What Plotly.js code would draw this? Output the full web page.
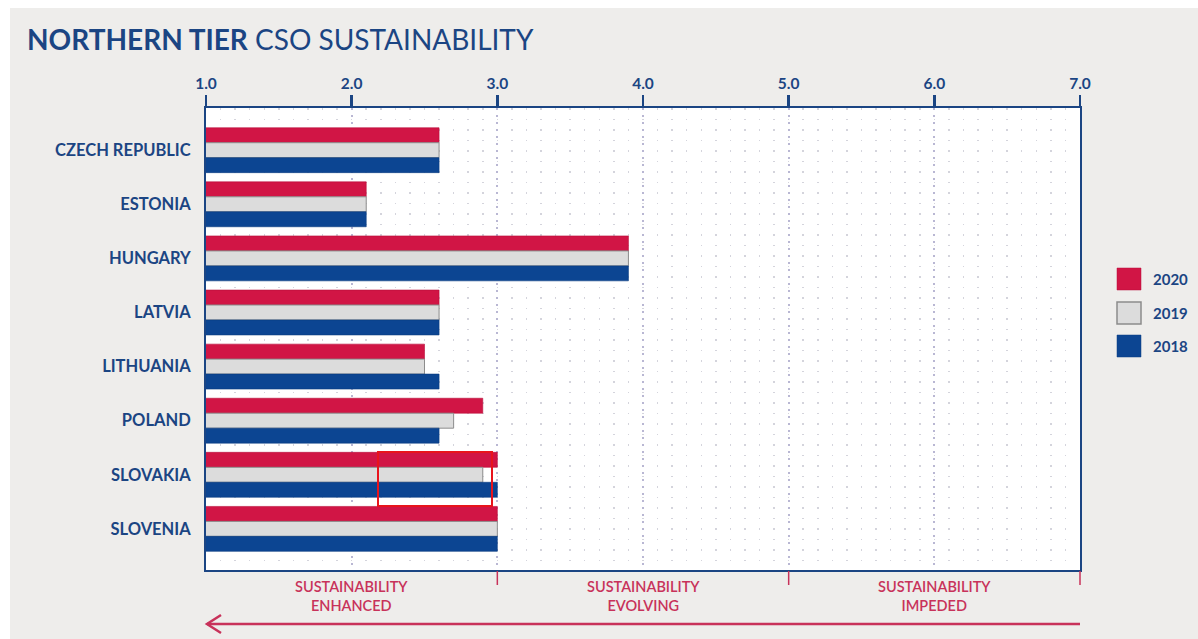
<!DOCTYPE html>
<html>
<head>
<meta charset="utf-8">
<script src="https://cdn.plot.ly/plotly-3.0.1.min.js"></script>
<style>html,body{margin:0;padding:0;background:#fff;}#chart{width:1198px;height:639px;}</style>
</head>
<body>
<div id="chart"></div>
<script>
const countries = ["CZECH REPUBLIC","ESTONIA","HUNGARY","LATVIA","LITHUANIA","POLAND","SLOVAKIA","SLOVENIA"];
const years = ["2020","2019","2018"];
const v2020 = [2.6, 2.1, 3.9, 2.6, 2.5, 2.9, 3.0, 3.0];
const v2019 = [2.6, 2.1, 3.9, 2.6, 2.5, 2.7, 2.9, 3.0];
const v2018 = [2.6, 2.1, 3.9, 2.6, 2.6, 2.6, 3.0, 3.0];
const xTicks = [1,2,3,4,5,6,7];
const zoneLabels = ["SUSTAINABILITY<br>ENHANCED","SUSTAINABILITY<br>EVOLVING","SUSTAINABILITY<br>IMPEDED"];
const zoneCenters = [2,4,6];
const zoneBounds = [3,5,7];

const RED = "#d11545", GRAY = "#dcdcdc", BLUE = "#0c4592", NAVY = "#1b4583", PINK = "#c8325a";
const FONT = "Lato, 'Open Sans', sans-serif";

// plot area in pixels: x 206..1080, y 108..570
const L = 206, R = 1080, T = 108, B = 570;
const px = x => (x - L) / (R - L);
const py = y => (B - y) / (B - T);
const xv = v => (v - 1) / 6;

const traces = [
  {name: years[0], y: countries, x: v2020, color: RED, line: {color: "#b80f3a", width: 0.6}},
  {name: years[1], y: countries, x: v2019, color: GRAY, line: {color: "#8c8c8c", width: 1}},
  {name: years[2], y: countries, x: v2018, color: BLUE, line: {color: "#0a3d80", width: 0.6}}
].map(t => ({
  type: "bar", orientation: "h", name: t.name, y: t.y, x: t.x, base: 0,
  marker: {color: t.color, line: t.line}, hoverinfo: "x+y+name"
}));

const shapes = [];
// white frame around the gray card (top & left)
shapes.push({type: "rect", xref: "paper", yref: "paper", x0: px(0), x1: px(1198), y0: py(0), y1: py(8), fillcolor: "#ffffff", line: {width: 0}, layer: "below"});
shapes.push({type: "rect", xref: "paper", yref: "paper", x0: px(0), x1: px(10), y0: py(0), y1: py(639), fillcolor: "#ffffff", line: {width: 0}, layer: "below"});
// zone separators below plot
zoneBounds.forEach(b => shapes.push({type: "line", xref: "paper", yref: "paper", x0: xv(b), x1: xv(b), y0: py(571), y1: py(585), line: {color: PINK, width: 1.5}}));
// arrow line
shapes.push({type: "line", xref: "paper", yref: "paper", x0: px(207), x1: px(1080), y0: py(624), y1: py(624), line: {color: PINK, width: 2.5}});
shapes.push({type: "path", xref: "paper", yref: "paper", path: `M ${px(221)} ${py(615)} L ${px(207)} ${py(624)} L ${px(221)} ${py(633)}`, line: {color: PINK, width: 2.5}});
// red highlight box
shapes.push({type: "rect", xref: "paper", yref: "paper", x0: px(378), x1: px(492), y0: py(452), y1: py(506), line: {color: "#e8141c", width: 2}, fillcolor: "rgba(0,0,0,0)"});
// custom legend
const legY = [279, 313, 346];
const legC = [RED, GRAY, BLUE];
const legL = ["#b80f3a", "#8c8c8c", "#0a3d80"];
years.forEach((yr, i) => {
  shapes.push({type: "rect", xref: "paper", yref: "paper", x0: px(1117), x1: px(1141), y0: py(legY[i] - 11), y1: py(legY[i] + 11), fillcolor: legC[i], line: {color: legL[i], width: i === 1 ? 1.5 : 0.5}});
});

const annotations = [];
years.forEach((yr, i) => annotations.push({xref: "paper", yref: "paper", x: px(1151), y: py(legY[i]), xanchor: "left", yanchor: "middle", text: "<b>" + yr + "</b>", showarrow: false, font: {family: FONT, size: 15, color: NAVY}}));
zoneLabels.forEach((t, i) => annotations.push({xref: "paper", yref: "paper", x: xv(zoneCenters[i]), y: py(596), xanchor: "center", yanchor: "middle", text: t, showarrow: false, font: {family: FONT, size: 14.5, color: PINK, weight: 600}}));

const layout = {
  width: 1198, height: 639,
  paper_bgcolor: "#eeedeb", plot_bgcolor: "#ffffff",
  margin: {l: L, r: 1198 - R, t: T, b: 639 - B, pad: 0},
  barmode: "group", bargap: 0.17, bargroupgap: 0,
  showlegend: false,
  font: {family: FONT, color: NAVY},
  title: {text: "<b>NORTHERN TIER</b> CSO SUSTAINABILITY", x: 27 / 1198, xanchor: "left", xref: "container", y: 1 - 40 / 639, yanchor: "middle", font: {family: FONT, size: 28, color: NAVY}},
  xaxis: {
    side: "top", range: [1, 7], tickvals: xTicks, ticktext: xTicks.map(v => v.toFixed(1)),
    showline: true, linecolor: NAVY, linewidth: 2, mirror: true,
    ticks: "outside", ticklen: 11, tickwidth: 2.5, tickcolor: NAVY,
    tickfont: {family: FONT, size: 15.5, color: NAVY, weight: "bold"},
    showgrid: true, gridcolor: "#b9b7d3", gridwidth: 2, griddash: "2px,5px",
    minor: {dtick: 0.1, showgrid: true, gridcolor: "#d4d4dc", gridwidth: 1.5, griddash: "1.5px,9px"},
    zeroline: false, fixedrange: true
  },
  yaxis: {
    type: "category", categoryorder: "array", categoryarray: countries,
    range: [7.76, -0.78],
    showline: true, linecolor: NAVY, linewidth: 2, mirror: true,
    ticks: "", ticklabelstandoff: 10,
    tickfont: {family: FONT, size: 16.5, color: NAVY, weight: "bold"},
    showgrid: false, zeroline: false, fixedrange: true
  },
  shapes: shapes,
  annotations: annotations
};

Plotly.newPlot("chart", traces, layout, {displayModeBar: false, staticPlot: true});
</script>
</body>
</html>
